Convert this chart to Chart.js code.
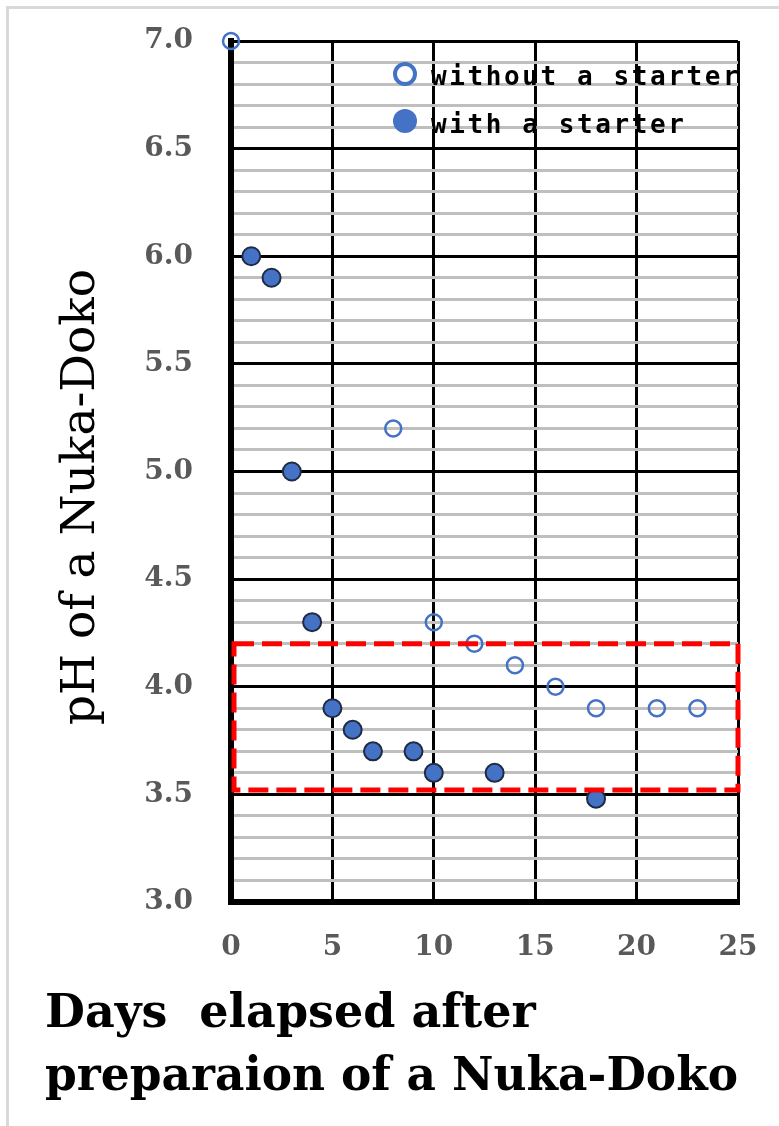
<!DOCTYPE html>
<html>
<head>
<meta charset="utf-8">
<script src="https://cdn.jsdelivr.net/npm/chart.js@4.4.1/dist/chart.umd.min.js"></script>
<style>
  html, body { margin: 0; padding: 0; background: #fff; }
  #wrap { position: relative; width: 779px; height: 1126px; overflow: hidden; }
  #frame { position: absolute; left: 6px; top: 6px; right: -10px; bottom: -10px;
           border-top: 3px solid #d9d9d9; border-left: 3px solid #d9d9d9; }
  canvas { position: absolute; left: 0; top: 0; }
</style>
</head>
<body>
<div id="wrap">
  <div id="frame"></div>
  <canvas id="chart" width="779" height="1126"></canvas>
</div>
<script>
// pH of nuka-doko vs. days since preparation
const SERIES_LABELS = ["without a starter", "with a starter"];
const DAYS_WITHOUT = [0, 8, 10, 12, 14, 16, 18, 21, 23];
const PH_WITHOUT   = [7.0, 5.2, 4.3, 4.2, 4.1, 4.0, 3.9, 3.9, 3.9];
const DAYS_WITH = [1, 2, 3, 4, 5, 6, 7, 9, 10, 13, 18];
const PH_WITH   = [6.0, 5.9, 5.0, 4.3, 3.9, 3.8, 3.7, 3.7, 3.6, 3.6, 3.48];
// highlighted pH band (red dashed box)
const BOX_DAYS = [0, 25];
const BOX_PH = [3.52, 4.2];
const X_TITLE = ["Days  elapsed after", "preparaion of a Nuka-Doko"];
const Y_TITLE = "pH of a Nuka-Doko";

const BLUE = "#4472c4";
const TICK_FONT = { family: "DejaVu Serif", weight: "bold", size: 28 };
const isMajor = v => Math.round(v * 10) % 5 === 0;

const extras = {
  id: "extras",
  afterDatasetsDraw(chart) {
    const { ctx, scales: { x, y } } = chart;
    const l = x.getPixelForValue(BOX_DAYS[0]) + 3, r = x.getPixelForValue(BOX_DAYS[1]);
    const t = y.getPixelForValue(BOX_PH[1]), b = y.getPixelForValue(BOX_PH[0]);
    ctx.save();
    ctx.strokeStyle = "#ff0000";
    ctx.lineWidth = 5;
    ctx.setLineDash([20, 8]);
    ctx.strokeRect(l, t, r - l, b - t);
    ctx.restore();
  },
  afterDraw(chart) {
    const { ctx } = chart;
    ctx.save();
    // legend inside the plot
    ctx.beginPath();
    ctx.arc(405, 74, 10, 0, Math.PI * 2);
    ctx.lineWidth = 4;
    ctx.strokeStyle = BLUE;
    ctx.stroke();
    ctx.beginPath();
    ctx.arc(405, 121, 12, 0, Math.PI * 2);
    ctx.fillStyle = BLUE;
    ctx.fill();
    ctx.fillStyle = "#000";
    ctx.font = "bold 26px 'DejaVu Sans Mono'";
    ctx.letterSpacing = "2.6px";
    ctx.textBaseline = "alphabetic";
    ctx.fillText(SERIES_LABELS[0], 431, 85);
    ctx.fillText(SERIES_LABELS[1], 431, 133);
    ctx.letterSpacing = "0px";
    // y axis title
    ctx.translate(82, 497);
    ctx.rotate(-Math.PI / 2);
    ctx.textAlign = "center";
    ctx.textBaseline = "middle";
    ctx.font = "47px 'DejaVu Serif'";
    ctx.fillText(Y_TITLE, 0, 0);
    ctx.restore();
  }
};

new Chart(document.getElementById("chart"), {
  type: "scatter",
  data: {
    datasets: [
      {
        label: SERIES_LABELS[0],
        data: DAYS_WITHOUT.map((d, i) => ({ x: d, y: PH_WITHOUT[i] })),
        pointRadius: 8,
        pointBorderWidth: 2.5,
        borderColor: BLUE,
        backgroundColor: "rgba(255,255,255,0)",
        clip: false,
      },
      {
        label: SERIES_LABELS[1],
        data: DAYS_WITH.map((d, i) => ({ x: d, y: PH_WITH[i] })),
        pointRadius: 9,
        pointBorderWidth: 2,
        borderColor: "#1f2a44",
        backgroundColor: BLUE,
        clip: false,
      },
    ],
  },
  options: {
    responsive: false,
    animation: false,
    layout: { padding: { left: 45, right: 41, top: 41, bottom: 0 } },
    plugins: {
      legend: { display: false },
      tooltip: { enabled: false },
      title: {
        display: true,
        position: "bottom",
        align: "start",
        text: X_TITLE,
        color: "#000",
        font: { family: "DejaVu Serif", weight: "bold", size: 46, lineHeight: 63 / 46 },
        padding: { top: 0, bottom: 16 },
      },
    },
    scales: {
      x: {
        type: "linear",
        min: 0, max: 25,
        ticks: { stepSize: 5, padding: 29, color: "#595959", font: TICK_FONT },
        grid: { drawTicks: false, color: "#000", lineWidth: 3 },
        border: { color: "#000", width: 6 },
        afterFit: s => { s.height = 82; s.paddingLeft = 0; s.paddingRight = 0; },
      },
      y: {
        min: 3, max: 7,
        ticks: {
          stepSize: 0.1, autoSkip: false, maxTicksLimit: 100, padding: 38,
          color: "#595959", font: TICK_FONT,
          callback: v => isMajor(v) ? (Math.round(v * 10) / 10).toFixed(1) : "",
        },
        grid: {
          drawTicks: false, lineWidth: 3,
          color: c => isMajor(c.tick.value) ? "#000" : "#bfbfbf",
        },
        border: { color: "#000", width: 6 },
        afterFit: s => { s.width = 186; s.paddingTop = 0; s.paddingBottom = 0; },
      },
    },
  },
  plugins: [extras],
});
</script>
</body>
</html>
